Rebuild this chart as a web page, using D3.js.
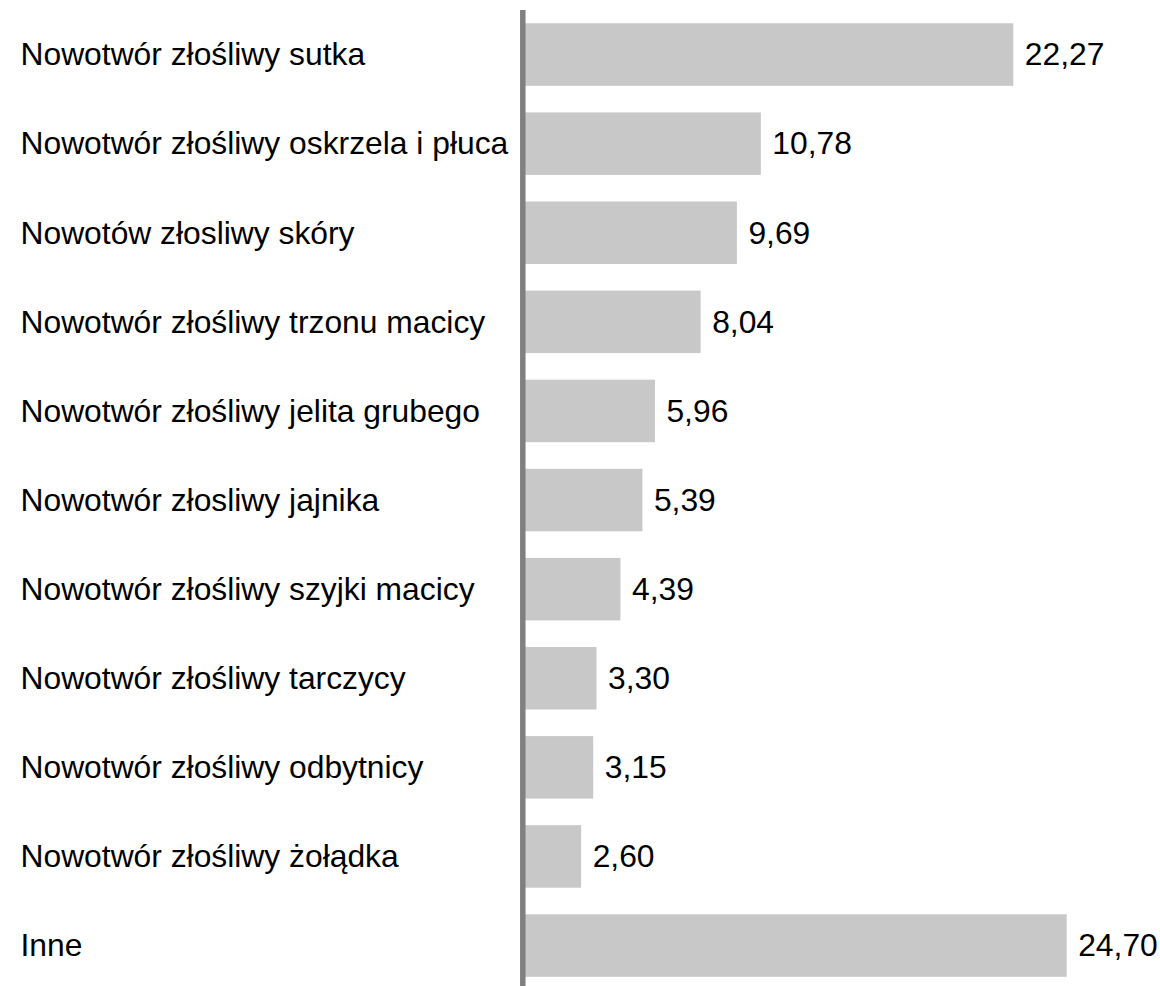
<!DOCTYPE html>
<html><head><meta charset="utf-8">
<script src="https://cdn.jsdelivr.net/npm/d3@7"></script>
<style>body{margin:0;background:#fff;} svg{display:block;}</style>
</head><body>
<svg id="c" width="1160" height="986"></svg>
<script>
const categories = [
  "Nowotwór złośliwy sutka",
  "Nowotwór złośliwy oskrzela i płuca",
  "Nowotów złosliwy skóry",
  "Nowotwór złośliwy trzonu macicy",
  "Nowotwór złośliwy jelita grubego",
  "Nowotwór złosliwy jajnika",
  "Nowotwór złośliwy szyjki macicy",
  "Nowotwór złośliwy tarczycy",
  "Nowotwór złośliwy odbytnicy",
  "Nowotwór złośliwy żołądka",
  "Inne"
];
const values = [22.27, 10.78, 9.69, 8.04, 5.96, 5.39, 4.39, 3.30, 3.15, 2.60, 24.70];

const svg = d3.select("#c");
const font = "'Liberation Sans', Arial, sans-serif";
const x = d3.scaleLinear().domain([0, 24.70]).range([524, 1066.7]);
const y = d3.scaleBand().domain(categories).range([23.3, 976.8]).paddingInner(0.2985).paddingOuter(0);

svg.selectAll("rect.bar").data(values).join("rect")
  .attr("class","bar")
  .attr("x", x(0))
  .attr("y", (d,i)=>y(categories[i]))
  .attr("width", d=>x(d)-x(0))
  .attr("height", y.bandwidth())
  .attr("fill", "#c8c8c8");

svg.append("line").attr("x1",522.8).attr("x2",522.8).attr("y1",10).attr("y2",986)
  .attr("stroke","#808080").attr("stroke-width",5.5);

const fmt = d => d.toFixed(2).replace(".", ",");
svg.selectAll("text.val").data(values).join("text")
  .attr("class","val")
  .attr("x", d=>x(d)+11.5)
  .attr("y", (d,i)=>y(categories[i]) + y.bandwidth()/2)
  .attr("dy","0.34em")
  .attr("font-family", font).attr("font-size", 31.8).attr("fill","#000")
  .text(fmt);

svg.selectAll("text.cat").data(categories).join("text")
  .attr("class","cat")
  .attr("x", 20.5)
  .attr("y", d=>y(d) + y.bandwidth()/2)
  .attr("dy","0.34em")
  .attr("font-family", font).attr("font-size", 31.8).attr("fill","#000")
  .text(d=>d);
</script>
</body></html>
